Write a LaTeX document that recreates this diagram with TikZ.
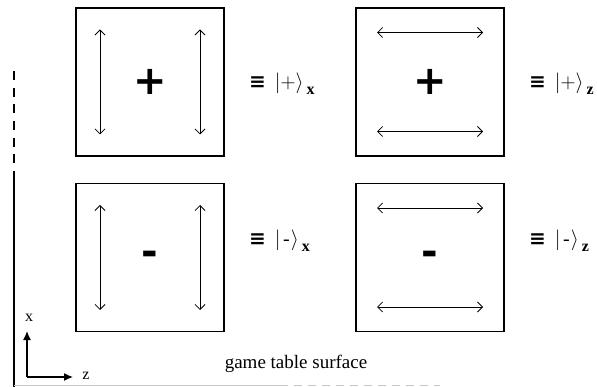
\documentclass[tikz,border=0pt]{standalone}
\usepackage{fontspec}
\setmainfont{Liberation Serif}
\newfontfamily\signfont{DejaVu Sans}
\usetikzlibrary{arrows.meta,calc}
\newcommand{\qlab}[2]{{\signfont\bfseries\fontsize{20}{20}\selectfont ≡}\hspace{9pt}$\Big|{#1}\Big\rangle$\hspace{3pt}\raisebox{-0.7ex}{\fontsize{16}{16}\selectfont\textbf{#2}}}
\begin{document}
\begin{tikzpicture}[x=1pt,y=-1pt,
  card/.style={draw,line width=1.6pt,minimum width=148pt,minimum height=148pt,inner sep=0pt},
  dbl/.style={line width=0.8pt,{Straight Barb[length=5pt,width=10pt]}-{Straight Barb[length=5pt,width=10pt]}},
  sign/.style={font=\signfont\bfseries\fontsize{40}{40}\selectfont,inner sep=0pt},
  lab/.style={anchor=west,inner sep=0pt,font=\fontsize{20}{20}\selectfont},
  axis/.style={line width=1.3pt,-{Latex[length=9pt,width=8pt]}},
  axlab/.style={font=\fontsize{16}{16}\selectfont,inner sep=0pt}]
\useasboundingbox (0,0) rectangle (597,387);
% cards
\node[card] (b1) at (150,82) {};
\node[card] (b2) at (430,82) {};
\node[card] (b3) at (150,257.5) {};
\node[card] (b4) at (430,257.5) {};
% signs
\node[sign] (p1) at (150,82) {+};
\node[sign] (p2) at (430,82) {+};
\node[sign] (m1) at (150,258) {-};
\node[sign] (m2) at (430,258) {-};
% arrows in x cards
\foreach \b in {b1,b3}{
  \draw[dbl] ([shift={(-50,-52.5)}]\b.center) -- ([shift={(-50,52.5)}]\b.center);
  \draw[dbl] ([shift={(50,-52.5)}]\b.center) -- ([shift={(50,52.5)}]\b.center);
}
% arrows in z cards
\foreach \b in {b2,b4}{
  \draw[dbl] ([shift={(-53,-49.5)}]\b.center) -- ([shift={(53,-49.5)}]\b.center);
  \draw[dbl] ([shift={(-53,49.5)}]\b.center) -- ([shift={(53,49.5)}]\b.center);
}
% labels
\node[lab] (l1) at (249,84) {\qlab{+}{x}};
\node[lab] (l2) at (529,84) {\qlab{+}{z}};
\node[lab] (l3) at (249,241) {\qlab{\mkern2mu\mbox{-}\mkern1mu}{x}};
\node[lab] (l4) at (529,241) {\qlab{\mkern2mu\mbox{-}\mkern1mu}{z}};
% left edge of the table
\coordinate (ltop) at (14,71);
\coordinate (lmid) at (14,172);
\coordinate (lbot) at (14,387);
\draw[line width=1.8pt,dash pattern=on 9pt off 7.7pt] (ltop) -- (lmid);
\draw[line width=1.8pt] (lmid) -- (lbot);
% bottom edge
\coordinate (bl) at (14,385);
\coordinate (bm) at (280,385);
\coordinate (br) at (440,385);
\draw[gray!45,line width=1pt] (bl) -- (bm);
\draw[gray!45,line width=1pt,dash pattern=on 8pt off 6pt] (bm) -- (br);
% axes
\coordinate (o) at (27,377);
\coordinate (xa) at (27,331);
\coordinate (za) at (73,377);
\draw[axis] (o) -- (xa);
\draw[axis] (o) -- (za);
\node[axlab] (xl) at (29,318) {x};
\node[axlab] (zl) at (86,376) {z};
% surface label
\node[font=\fontsize{19}{19}\selectfont,inner sep=0pt] (gts) at (296,364) {game table surface};
\end{tikzpicture}
\end{document}
